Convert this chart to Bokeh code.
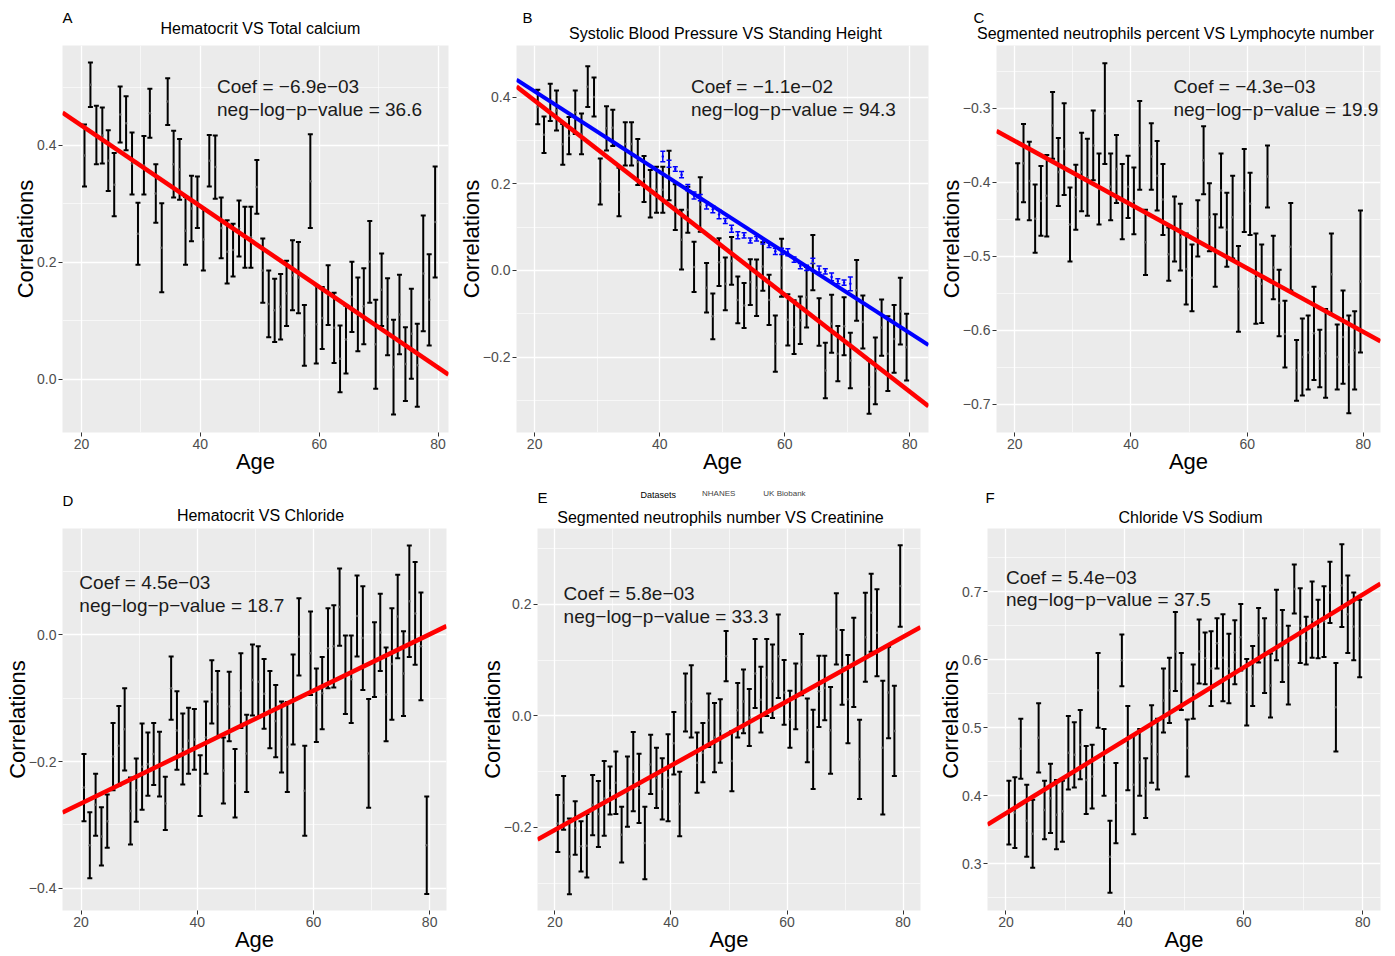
import numpy as np
from bokeh.plotting import figure
from bokeh.models import (ColumnDataSource, Range1d, FixedTicker, Label, Whisker, TeeHead,
                          CustomJSTickFormatter, Legend)
from bokeh.layouts import row, column
from bokeh.embed import file_html
from bokeh.resources import INLINE

FONT = "Liberation Sans"
M = "\u2212"

# ---------------- data ----------------
AGES = [a + 0.5 for a in range(20, 80)]
UKB_AGES = [a + 0.5 for a in range(40, 71)]

A_mean = [0.383, 0.504, 0.418, 0.417, 0.374, 0.333, 0.453, 0.438, 0.369, 0.249,
          0.366, 0.455, 0.318, 0.225, 0.475, 0.368, 0.359, 0.254, 0.292, 0.303,
          0.239, 0.374, 0.363, 0.259, 0.218, 0.221, 0.258, 0.243, 0.243, 0.329,
          0.186, 0.129, 0.118, 0.124, 0.147, 0.178, 0.174, 0.075, 0.339, 0.094,
          0.105, 0.144, 0.088, 0.035, 0.068, 0.141, 0.111, 0.125, 0.201, 0.060,
          0.153, 0.107, 0.021, 0.111, 0.026, 0.078, 0.024, 0.181, 0.136, 0.269]
A_err = [0.053, 0.038, 0.050, 0.048, 0.052, 0.054, 0.048, 0.046, 0.053, 0.053,
         0.050, 0.042, 0.050, 0.076, 0.040, 0.057, 0.052, 0.058, 0.056, 0.044,
         0.053, 0.044, 0.054, 0.052, 0.054, 0.045, 0.048, 0.052, 0.052, 0.046,
         0.055, 0.057, 0.054, 0.056, 0.056, 0.060, 0.061, 0.052, 0.080, 0.067,
         0.053, 0.051, 0.060, 0.057, 0.058, 0.060, 0.063, 0.065, 0.070, 0.076,
         0.062, 0.066, 0.081, 0.068, 0.063, 0.077, 0.071, 0.099, 0.078, 0.095]

B_mean = [0.377, 0.313, 0.388, 0.369, 0.291, 0.311, 0.365, 0.315, 0.424, 0.400,
          0.205, 0.328, 0.329, 0.181, 0.292, 0.292, 0.250, 0.211, 0.177, 0.186,
          0.186, 0.219, 0.146, 0.071, 0.140, 0.008, 0.152, -0.040, -0.106, 0.019,
          -0.031, 0.022, -0.068, -0.081, -0.027, -0.040, 0.009, -0.068, -0.169, 0.006,
          -0.114, -0.131, -0.115, -0.062, 0.018, -0.119, -0.231, -0.123, -0.192, -0.129,
          -0.208, -0.046, -0.119, -0.269, -0.232, -0.132, -0.192, -0.158, -0.094, -0.177]
B_err = [0.040, 0.042, 0.043, 0.046, 0.047, 0.043, 0.050, 0.047, 0.047, 0.045,
         0.053, 0.051, 0.042, 0.056, 0.050, 0.050, 0.053, 0.053, 0.055, 0.053,
         0.053, 0.057, 0.053, 0.069, 0.053, 0.058, 0.063, 0.057, 0.053, 0.055,
         0.061, 0.055, 0.054, 0.052, 0.053, 0.065, 0.056, 0.058, 0.065, 0.067,
         0.059, 0.062, 0.055, 0.070, 0.064, 0.055, 0.064, 0.067, 0.064, 0.067,
         0.064, 0.070, 0.061, 0.062, 0.077, 0.065, 0.086, 0.078, 0.077, 0.077]
B_ukb_mean = [0.263, 0.246, 0.234, 0.221, 0.191, 0.173, 0.168, 0.150, 0.141, 0.129,
              0.114, 0.096, 0.081, 0.081, 0.069, 0.073, 0.067, 0.058, 0.044, 0.044,
              0.042, 0.025, 0.010, 0.006, 0.022, 0.003, -0.002, -0.015, -0.025, -0.028,
              -0.031]
B_ukb_err = [0.012, 0.008, 0.005, 0.007, 0.007, 0.008, 0.007, 0.008, 0.008, 0.010,
             0.006, 0.008, 0.008, 0.006, 0.006, 0.005, 0.006, 0.005, 0.007, 0.007,
             0.008, 0.006, 0.006, 0.006, 0.006, 0.007, 0.006, 0.009, 0.006, 0.006,
             0.016]

C_mean = [-0.412, -0.374, -0.398, -0.449, -0.425, -0.418, -0.323, -0.386, -0.355, -0.457,
          -0.420, -0.386, -0.393, -0.350, -0.409, -0.307, -0.406, -0.382, -0.426, -0.406,
          -0.425, -0.350, -0.481, -0.365, -0.391, -0.423, -0.497, -0.463, -0.474, -0.517,
          -0.529, -0.462, -0.370, -0.447, -0.492, -0.411, -0.464, -0.447, -0.544, -0.411,
          -0.429, -0.530, -0.537, -0.392, -0.515, -0.563, -0.605, -0.487, -0.654, -0.636,
          -0.630, -0.604, -0.638, -0.631, -0.524, -0.636, -0.609, -0.646, -0.627, -0.534]
C_err = [0.038, 0.053, 0.053, 0.046, 0.047, 0.055, 0.045, 0.046, 0.062, 0.050,
         0.044, 0.053, 0.052, 0.047, 0.048, 0.068, 0.045, 0.046, 0.051, 0.042,
         0.045, 0.060, 0.044, 0.045, 0.047, 0.048, 0.036, 0.044, 0.045, 0.048,
         0.045, 0.038, 0.046, 0.046, 0.049, 0.050, 0.050, 0.056, 0.058, 0.056,
         0.042, 0.061, 0.053, 0.042, 0.043, 0.045, 0.045, 0.059, 0.041, 0.052,
         0.050, 0.063, 0.039, 0.060, 0.055, 0.044, 0.063, 0.066, 0.053, 0.096]

D_mean = [-0.241, -0.332, -0.268, -0.318, -0.294, -0.192, -0.175, -0.149, -0.278, -0.245,
          -0.208, -0.204, -0.188, -0.204, -0.266, -0.084, -0.151, -0.180, -0.167, -0.165,
          -0.238, -0.162, -0.090, -0.109, -0.214, -0.113, -0.234, -0.088, -0.187, -0.071,
          -0.074, -0.093, -0.118, -0.136, -0.161, -0.177, -0.102, -0.003, -0.246, -0.029,
          -0.111, -0.092, -0.021, -0.018, 0.044, -0.063, -0.070, 0.030, -0.005, -0.187,
          -0.039, 0.004, -0.094, -0.046, 0.029, -0.061, 0.053, 0.034, -0.018, -0.332]
D_err = [0.053, 0.052, 0.049, 0.046, 0.042, 0.053, 0.063, 0.065, 0.053, 0.050,
         0.068, 0.050, 0.049, 0.051, 0.042, 0.050, 0.062, 0.056, 0.052, 0.048,
         0.048, 0.057, 0.050, 0.052, 0.052, 0.055, 0.054, 0.059, 0.061, 0.056,
         0.056, 0.055, 0.061, 0.057, 0.056, 0.071, 0.071, 0.061, 0.071, 0.066,
         0.058, 0.057, 0.063, 0.065, 0.061, 0.062, 0.069, 0.064, 0.082, 0.086,
         0.059, 0.061, 0.074, 0.088, 0.066, 0.067, 0.088, 0.081, 0.085, 0.077]

E_mean = [-0.193, -0.156, -0.252, -0.201, -0.234, -0.233, -0.160, -0.176, -0.148, -0.134,
          -0.120, -0.213, -0.136, -0.100, -0.130, -0.228, -0.087, -0.111, -0.131, -0.111,
          -0.049, -0.158, 0.024, 0.026, -0.084, -0.066, -0.008, -0.039, -0.027, 0.107,
          -0.081, 0.010, 0.026, -0.003, 0.076, 0.029, 0.069, 0.062, 0.107, 0.042,
          -0.006, 0.035, 0.092, -0.026, -0.060, 0.044, 0.050, -0.026, 0.156, 0.087,
          0.030, 0.096, -0.078, 0.141, 0.185, 0.149, -0.057, 0.042, -0.027, 0.233]
E_err = [0.051, 0.048, 0.068, 0.048, 0.045, 0.057, 0.054, 0.059, 0.067, 0.043,
         0.056, 0.050, 0.063, 0.071, 0.062, 0.065, 0.053, 0.054, 0.055, 0.078,
         0.056, 0.058, 0.052, 0.065, 0.054, 0.053, 0.048, 0.062, 0.057, 0.045,
         0.054, 0.049, 0.057, 0.051, 0.062, 0.059, 0.069, 0.066, 0.075, 0.058,
         0.051, 0.059, 0.055, 0.057, 0.071, 0.064, 0.058, 0.078, 0.064, 0.067,
         0.079, 0.080, 0.071, 0.080, 0.070, 0.078, 0.120, 0.082, 0.081, 0.073]

F_mean = [0.375, 0.375, 0.469, 0.363, 0.344, 0.485, 0.379, 0.396, 0.372, 0.377,
          0.463, 0.460, 0.475, 0.423, 0.428, 0.555, 0.449, 0.310, 0.389, 0.599,
          0.470, 0.416, 0.449, 0.411, 0.476, 0.461, 0.540, 0.555, 0.612, 0.568,
          0.470, 0.553, 0.612, 0.602, 0.587, 0.624, 0.603, 0.587, 0.611, 0.633,
          0.552, 0.576, 0.636, 0.606, 0.562, 0.651, 0.620, 0.592, 0.704, 0.650,
          0.628, 0.659, 0.645, 0.656, 0.699, 0.530, 0.709, 0.667, 0.649, 0.631]
F_err = [0.047, 0.052, 0.044, 0.053, 0.050, 0.051, 0.043, 0.051, 0.051, 0.045,
         0.054, 0.048, 0.051, 0.050, 0.047, 0.055, 0.049, 0.053, 0.059, 0.038,
         0.062, 0.073, 0.049, 0.044, 0.057, 0.052, 0.047, 0.048, 0.058, 0.042,
         0.042, 0.040, 0.047, 0.038, 0.055, 0.037, 0.064, 0.051, 0.047, 0.049,
         0.049, 0.044, 0.040, 0.055, 0.047, 0.052, 0.053, 0.058, 0.036, 0.055,
         0.035, 0.056, 0.043, 0.052, 0.045, 0.065, 0.061, 0.057, 0.050, 0.057]

# regression fits (slope, intercept)
FIT_A = (-0.0069, 0.572)
FIT_B = (-0.0112, 0.616)
FIT_B_UKB = (-0.00929, 0.599)
FIT_C = (-0.0043, -0.258)
FIT_D = (0.00445, -0.355)
FIT_E = (0.00577, -0.320)
FIT_F = (0.00536, 0.267)

TITLES = {
    "A": "Hematocrit VS Total calcium",
    "B": "Systolic Blood Pressure VS Standing Height",
    "C": "Segmented neutrophils percent VS Lymphocyte number",
    "D": "Hematocrit VS Chloride",
    "E": "Segmented neutrophils number VS Creatinine",
    "F": "Chloride VS Sodium",
}
COEF = {"A": M + "6.9e" + M + "03", "B": M + "1.1e" + M + "02", "C": M + "4.3e" + M + "03",
        "D": "4.5e" + M + "03", "E": "5.8e" + M + "03", "F": "5.4e" + M + "03"}
NLP = {"A": "36.6", "B": "94.3", "C": "19.9", "D": "18.7", "E": "33.3", "F": "37.5"}
LEGEND_TITLE = "Datasets"
LEGEND_LABELS = ["NHANES", "UK Biobank"]

# ---------------- layout config (page pixels, origin at top-left) ----------------
PAGE_W = 1390
BB = 44
ROWS = [
    dict(keys=("A", "B", "C"), hdr_top=0, hdr_h=45, fh=387),
    dict(keys=("D", "E", "F"), hdr_top=476, hdr_h=52, fh=382),
]
CFG = {
    "A": dict(bl=62, fw=386, br=7, xr=(16.8, 81.75), yr=(-0.091, 0.571),
              yt=[0.0, 0.2, 0.4], ym=[0.1, 0.3, 0.5],
              letter=(62, 17), title=(260, 28), ann=(42.8, 0.501, 0.462)),
    "B": dict(bl=60, fw=413, br=7, xr=(17.1, 83.0), yr=(-0.374, 0.519),
              yt=[-0.2, 0.0, 0.2, 0.4], ym=[-0.3, -0.1, 0.1, 0.3],
              letter=(522, 17), title=(725, 33), ann=(45.0, 0.424, 0.371)),
    "C": dict(bl=60, fw=385, br=10, xr=(16.85, 82.95), yr=(-0.738, -0.215),
              yt=[-0.7, -0.6, -0.5, -0.4, -0.3], ym=[-0.65, -0.55, -0.45, -0.35, -0.25],
              letter=(973, 17), title=(1175, 33), ann=(47.3, -0.271, -0.302)),
    "D": dict(bl=62, fw=384, br=30, xr=(16.8, 82.9), yr=(-0.435, 0.168),
              yt=[-0.4, -0.2, 0.0], ym=[-0.3, -0.1, 0.1],
              letter=(62, 500), title=(260, 515), ann=(19.7, 0.083, 0.047)),
    "E": dict(bl=60, fw=384, br=7, xr=(17.0, 83.0), yr=(-0.349, 0.336),
              yt=[-0.2, 0.0, 0.2], ym=[-0.3, -0.1, 0.1, 0.3],
              letter=(537, 497), title=(720, 517), ann=(21.5, 0.220, 0.179)),
    "F": dict(bl=60, fw=393, br=10, xr=(16.9, 83.0), yr=(0.231, 0.793),
              yt=[0.3, 0.4, 0.5, 0.6, 0.7], ym=[0.25, 0.35, 0.45, 0.55, 0.65, 0.75],
              letter=(985, 497), title=(1190, 517), ann=(20.0, 0.721, 0.688)),
}
LEGEND_POS = dict(title_left=640, keys_left=680, y=494)


def add_errorbars(p, xs, mean, err, color, lw, head):
    lo = [m - e for m, e in zip(mean, err)]
    hi = [m + e for m, e in zip(mean, err)]
    src = ColumnDataSource(dict(x=xs, m=mean, lo=lo, hi=hi))
    w = Whisker(source=src, base="x", lower="lo", upper="hi", line_color=color, line_width=lw,
                upper_head=TeeHead(size=head, line_color=color, line_width=lw),
                lower_head=TeeHead(size=head, line_color=color, line_width=lw),
                level="underlay")
    p.add_layout(w)
    p.scatter("x", "m", source=src, size=2.5, fill_color="#555555" if color == "black" else color,
              line_color=None)


def add_fit(p, fit, color, lw):
    slope, intercept = fit
    x0, x1 = p.x_range.start, p.x_range.end
    p.line([x0, x1], [intercept + slope * x0, intercept + slope * x1], line_color=color, line_width=lw)


def text_label(fig, H, top, px, py, text, size, align="left"):
    fig.add_layout(Label(x=px, y=H - (py - top), text=text, text_font=FONT, text_font_size=size,
                         text_align=align, text_baseline="middle", text_color="black"))


def make_header(spec):
    H, top = spec["hdr_h"], spec["hdr_top"]
    h = figure(width=PAGE_W, height=H, x_range=Range1d(0, PAGE_W), y_range=Range1d(0, H),
               output_backend="svg", toolbar_location=None, title=None,
               x_axis_type=None, y_axis_type=None,
               min_border_left=0, min_border_right=0, min_border_top=0, min_border_bottom=0,
               background_fill_color="white", border_fill_color="white", outline_line_color=None)
    for k in spec["keys"]:
        c = CFG[k]
        text_label(h, H, top, c["letter"][0], c["letter"][1], k, "15px", "left")
        text_label(h, H, top, c["title"][0], c["title"][1], TITLES[k], "16px", "center")
    if "E" in spec["keys"]:
        text_label(h, H, top, LEGEND_POS["title_left"], LEGEND_POS["y"], LEGEND_TITLE, "9px", "left")
        r_nh = h.line(x=[], y=[], line_color="black", line_width=2)
        r_uk = h.line(x=[], y=[], line_color="blue", line_width=2)
        ly = H - (LEGEND_POS["y"] - top)
        legend = Legend(items=[(LEGEND_LABELS[0], [r_nh]), (LEGEND_LABELS[1], [r_uk])],
                        orientation="horizontal", location=(LEGEND_POS["keys_left"], ly - 4),
                        label_text_font=FONT, label_text_font_size="8px", label_height=8,
                        glyph_width=17, glyph_height=8, label_standoff=5, spacing=6,
                        padding=0, margin=0, background_fill_alpha=0, border_line_color=None)
        h.add_layout(legend, "center")
    return h


def make_panel(key, fh, mean, err, fit):
    c = CFG[key]
    p = figure(width=c["bl"] + c["fw"] + c["br"], height=fh + BB,
               x_range=Range1d(*c["xr"]), y_range=Range1d(*c["yr"]),
               output_backend="svg", toolbar_location=None, title=None,
               min_border_left=c["bl"], min_border_right=c["br"],
               min_border_top=0, min_border_bottom=BB,
               background_fill_color="#EBEBEB", border_fill_color="white",
               outline_line_color=None)
    p.xaxis.ticker = FixedTicker(ticks=[20, 40, 60, 80], minor_ticks=[30, 50, 70])
    p.yaxis.ticker = FixedTicker(ticks=c["yt"], minor_ticks=c["ym"])
    p.yaxis.formatter = CustomJSTickFormatter(code="return tick.toFixed(1).replace('-', '" + M + "');")
    p.xaxis.axis_label = "Age"
    p.yaxis.axis_label = "Correlations"
    for ax in (p.xaxis[0], p.yaxis[0]):
        ax.axis_line_color = None
        ax.major_tick_line_color = "#333333"
        ax.major_tick_out = 4
        ax.major_tick_in = 0
        ax.minor_tick_out = 0
        ax.minor_tick_in = 0
        ax.major_label_text_font = FONT
        ax.major_label_text_font_size = "14px"
        ax.major_label_text_color = "#4D4D4D"
        ax.major_label_standoff = 2
        ax.axis_label_text_font = FONT
        ax.axis_label_text_font_size = "22px"
        ax.axis_label_text_font_style = "normal"
        ax.axis_label_text_color = "black"
    p.xaxis.axis_label_standoff = -3
    p.yaxis.axis_label_standoff = -4
    p.grid.grid_line_color = "white"
    p.grid.grid_line_width = 1.3
    p.grid.minor_grid_line_color = "white"
    p.grid.minor_grid_line_width = 0.6

    add_errorbars(p, AGES, mean, err, "black", 2, 5)
    add_fit(p, fit, "red", 4.5)

    ax_, ay1, ay2 = c["ann"]
    p.add_layout(Label(x=ax_, y=ay1, text="Coef = " + COEF[key], text_font=FONT,
                       text_font_size="19px", text_align="left", text_baseline="middle",
                       text_color="#1A1A1A"))
    p.add_layout(Label(x=ax_, y=ay2, text="neg" + M + "log" + M + "p" + M + "value = " + NLP[key],
                       text_font=FONT, text_font_size="19px", text_align="left",
                       text_baseline="middle", text_color="#1A1A1A"))
    return p


series = {"A": (A_mean, A_err, FIT_A), "B": (B_mean, B_err, FIT_B), "C": (C_mean, C_err, FIT_C),
          "D": (D_mean, D_err, FIT_D), "E": (E_mean, E_err, FIT_E), "F": (F_mean, F_err, FIT_F)}

blocks = []
for spec in ROWS:
    panels = []
    for k in spec["keys"]:
        pnl = make_panel(k, spec["fh"], *series[k])
        if k == "B":
            add_errorbars(pnl, UKB_AGES, B_ukb_mean, B_ukb_err, "blue", 1.5, 5)
            add_fit(pnl, FIT_B_UKB, "blue", 4)
        panels.append(pnl)
    blocks.append(make_header(spec))
    blocks.append(row(*panels))

layout = column(*blocks)

with open("out.html", "w", encoding="utf-8") as f:
    f.write(file_html(layout, INLINE))
